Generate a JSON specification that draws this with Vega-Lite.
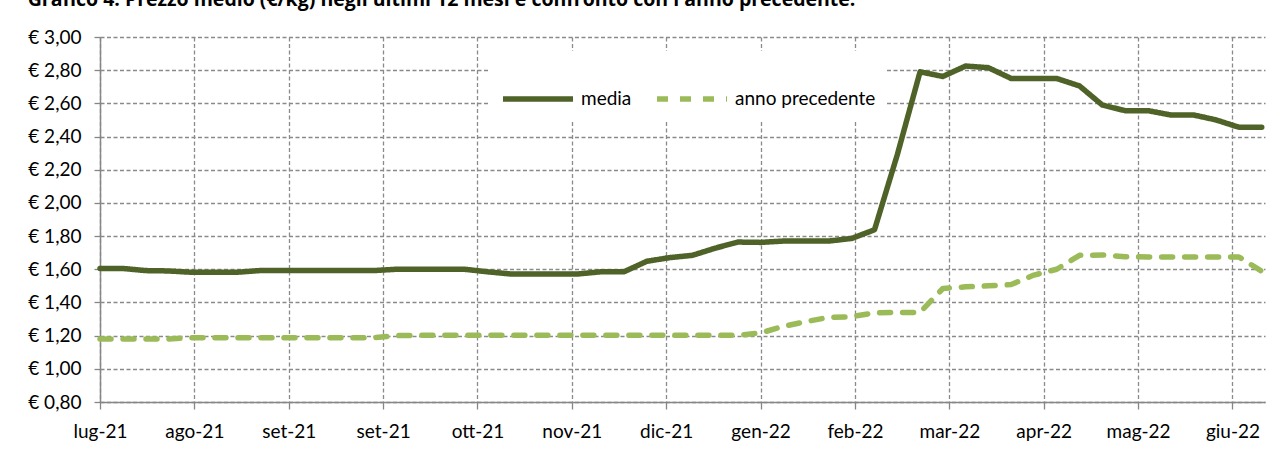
{
  "$schema": "https://vega.github.io/schema/vega-lite/v6.json",
  "autosize": {"type": "none"},
  "width": 1165,
  "height": 365,
  "padding": {"left": 100, "top": 37, "right": 19, "bottom": 48},
  "background": "white",
  "title": {
    "text": "Grafico 4. Prezzo medio (€/kg) negli ultimi 12 mesi e confronto con l'anno precedente.",
    "anchor": "start",
    "font": "Open Sans",
    "fontSize": 19.5,
    "fontWeight": "bold",
    "color": "black",
    "baseline": "alphabetic",
    "offset": 0,
    "dy": -3
  },
  "data": {
    "values": [
      {"data": "2021-07-05", "media": 1.605, "anno precedente": 1.18},
      {"data": "2021-07-12", "media": 1.605, "anno precedente": 1.18},
      {"data": "2021-07-19", "media": 1.592, "anno precedente": 1.18},
      {"data": "2021-07-26", "media": 1.59, "anno precedente": 1.18},
      {"data": "2021-08-02", "media": 1.582, "anno precedente": 1.188},
      {"data": "2021-08-09", "media": 1.582, "anno precedente": 1.188},
      {"data": "2021-08-16", "media": 1.582, "anno precedente": 1.188},
      {"data": "2021-08-23", "media": 1.592, "anno precedente": 1.188},
      {"data": "2021-08-30", "media": 1.592, "anno precedente": 1.188},
      {"data": "2021-09-06", "media": 1.592, "anno precedente": 1.188},
      {"data": "2021-09-13", "media": 1.592, "anno precedente": 1.188},
      {"data": "2021-09-20", "media": 1.592, "anno precedente": 1.188},
      {"data": "2021-09-27", "media": 1.592, "anno precedente": 1.188},
      {"data": "2021-10-04", "media": 1.6, "anno precedente": 1.2},
      {"data": "2021-10-11", "media": 1.6, "anno precedente": 1.202},
      {"data": "2021-10-18", "media": 1.6, "anno precedente": 1.202},
      {"data": "2021-10-25", "media": 1.6, "anno precedente": 1.202},
      {"data": "2021-11-01", "media": 1.585, "anno precedente": 1.202},
      {"data": "2021-11-08", "media": 1.572, "anno precedente": 1.202},
      {"data": "2021-11-15", "media": 1.572, "anno precedente": 1.202},
      {"data": "2021-11-22", "media": 1.572, "anno precedente": 1.202},
      {"data": "2021-11-29", "media": 1.572, "anno precedente": 1.202},
      {"data": "2021-12-06", "media": 1.585, "anno precedente": 1.202},
      {"data": "2021-12-13", "media": 1.585, "anno precedente": 1.202},
      {"data": "2021-12-20", "media": 1.648, "anno precedente": 1.202},
      {"data": "2021-12-27", "media": 1.67, "anno precedente": 1.202},
      {"data": "2022-01-03", "media": 1.684, "anno precedente": 1.202},
      {"data": "2022-01-10", "media": 1.727, "anno precedente": 1.202},
      {"data": "2022-01-17", "media": 1.764, "anno precedente": 1.202},
      {"data": "2022-01-24", "media": 1.762, "anno precedente": 1.216},
      {"data": "2022-01-31", "media": 1.77, "anno precedente": 1.256},
      {"data": "2022-02-07", "media": 1.77, "anno precedente": 1.285},
      {"data": "2022-02-14", "media": 1.77, "anno precedente": 1.31},
      {"data": "2022-02-21", "media": 1.786, "anno precedente": 1.314},
      {"data": "2022-02-28", "media": 1.838, "anno precedente": 1.338},
      {"data": "2022-03-07", "media": 2.29, "anno precedente": 1.34},
      {"data": "2022-03-14", "media": 2.79, "anno precedente": 1.34},
      {"data": "2022-03-21", "media": 2.762, "anno precedente": 1.484},
      {"data": "2022-03-28", "media": 2.825, "anno precedente": 1.494},
      {"data": "2022-04-04", "media": 2.815, "anno precedente": 1.5},
      {"data": "2022-04-11", "media": 2.75, "anno precedente": 1.508},
      {"data": "2022-04-18", "media": 2.75, "anno precedente": 1.565},
      {"data": "2022-04-25", "media": 2.75, "anno precedente": 1.6},
      {"data": "2022-05-02", "media": 2.705, "anno precedente": 1.684},
      {"data": "2022-05-09", "media": 2.59, "anno precedente": 1.686},
      {"data": "2022-05-16", "media": 2.556, "anno precedente": 1.676},
      {"data": "2022-05-23", "media": 2.556, "anno precedente": 1.674},
      {"data": "2022-05-30", "media": 2.53, "anno precedente": 1.674},
      {"data": "2022-06-06", "media": 2.53, "anno precedente": 1.674},
      {"data": "2022-06-13", "media": 2.5, "anno precedente": 1.674},
      {"data": "2022-06-20", "media": 2.456, "anno precedente": 1.674},
      {"data": "2022-06-27", "media": 2.456, "anno precedente": 1.588}
    ]
  },
  "transform": [{"fold": ["media", "anno precedente"], "as": ["serie", "valore"]}],
  "mark": {"type": "line", "strokeWidth": 5.5, "strokeCap": "round", "strokeJoin": "round"},
  "encoding": {
    "x": {
      "field": "data",
      "type": "temporal",
      "scale": {
        "type": "utc",
        "domain": [
          {"year": 2021, "month": 7, "date": 5, "utc": true},
          {"year": 2022, "month": 6, "date": 28, "utc": true}
        ]
      },
      "axis": {
        "title": null,
        "values": [
          {"year": 2021, "month": 7, "date": 5, "utc": true},
          {"year": 2021, "month": 8, "date": 3, "utc": true},
          {"year": 2021, "month": 9, "date": 1, "utc": true},
          {"year": 2021, "month": 9, "date": 30, "utc": true},
          {"year": 2021, "month": 10, "date": 29, "utc": true},
          {"year": 2021, "month": 11, "date": 27, "utc": true},
          {"year": 2021, "month": 12, "date": 26, "utc": true},
          {"year": 2022, "month": 1, "date": 24, "utc": true},
          {"year": 2022, "month": 2, "date": 22, "utc": true},
          {"year": 2022, "month": 3, "date": 23, "utc": true},
          {"year": 2022, "month": 4, "date": 21, "utc": true},
          {"year": 2022, "month": 5, "date": 20, "utc": true},
          {"year": 2022, "month": 6, "date": 18, "utc": true}
        ],
        "labelExpr": "['gen','feb','mar','apr','mag','giu','lug','ago','set','ott','nov','dic'][utcmonth(datum.value)] + '-' + utcFormat(datum.value, '%y')",
        "labelFont": "Lato",
        "labelFontSize": 19,
        "labelColor": "black",
        "labelPadding": 13,
        "labelFlush": false,
        "labelOverlap": false,
        "tickSize": 7,
        "tickColor": "#868686",
        "tickWidth": 1.3,
        "domainColor": "#868686",
        "domainWidth": 1.5,
        "grid": true,
        "gridColor": "#8a8a8a",
        "gridDash": [4, 2.5],
        "gridWidth": 1.3
      }
    },
    "y": {
      "field": "valore",
      "type": "quantitative",
      "scale": {"domain": [0.8, 3.0], "nice": false, "zero": false},
      "axis": {
        "title": null,
        "values": [0.8, 1.0, 1.2, 1.4, 1.6, 1.8, 2.0, 2.2, 2.4, 2.6, 2.8, 3.0],
        "labelExpr": "'€ ' + replace(format(datum.value, '.2f'), '.', ',')",
        "labelFont": "Lato",
        "labelFontSize": 19,
        "labelColor": "black",
        "labelPadding": 13,
        "labelFlush": false,
        "labelOverlap": false,
        "tickSize": 6,
        "tickColor": "#868686",
        "tickWidth": 1.3,
        "domainColor": "#868686",
        "domainWidth": 1.5,
        "grid": true,
        "gridColor": "#8a8a8a",
        "gridDash": [4, 2.5],
        "gridWidth": 1.3
      }
    },
    "color": {
      "field": "serie",
      "type": "nominal",
      "scale": {"domain": ["media", "anno precedente"], "range": ["#4F6228", "#9BBB59"]},
      "legend": {
        "title": null,
        "orient": "none",
        "legendX": 390,
        "legendY": 14,
        "direction": "horizontal",
        "symbolType": "stroke",
        "symbolSize": 4900,
        "symbolStrokeWidth": 5.5,
        "labelFont": "Lato",
        "labelFontSize": 19,
        "labelColor": "black",
        "labelOffset": 5,
        "columnPadding": 14,
        "fillColor": "white",
        "padding": 10
      }
    },
    "strokeDash": {
      "field": "serie",
      "type": "nominal",
      "scale": {"domain": ["media", "anno precedente"], "range": [[1, 0], [11, 12]]},
      "legend": {
        "title": null,
        "orient": "none",
        "legendX": 390,
        "legendY": 14,
        "direction": "horizontal",
        "symbolType": "stroke",
        "symbolSize": 4900,
        "symbolStrokeWidth": 5.5,
        "labelFont": "Lato",
        "labelFontSize": 19,
        "labelColor": "black",
        "labelOffset": 5,
        "columnPadding": 14,
        "fillColor": "white",
        "padding": 10
      }
    }
  },
  "config": {
    "view": {"stroke": null}
  }
}
